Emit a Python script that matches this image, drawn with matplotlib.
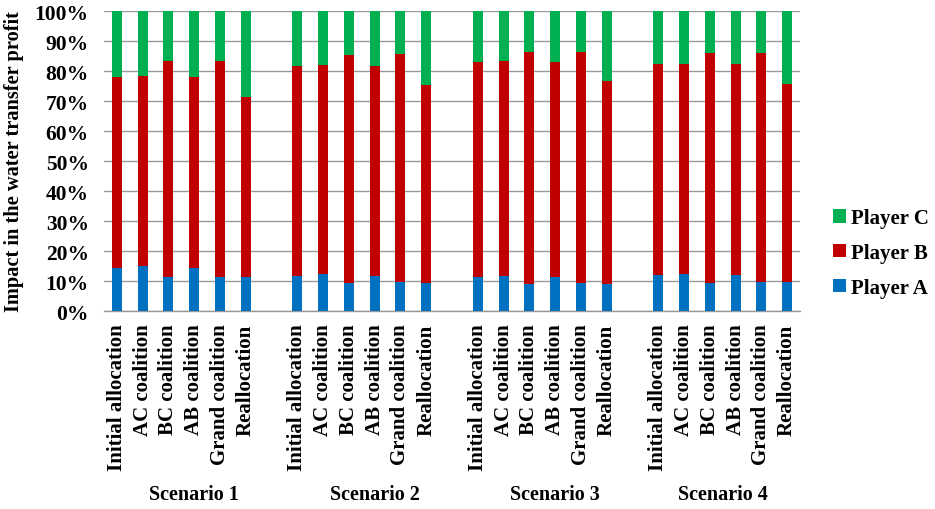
import matplotlib
matplotlib.use("Agg")
import matplotlib.pyplot as plt
import matplotlib.transforms as mtransforms
import numpy as np

plt.rcParams['font.family'] = ['Liberation Serif', 'DejaVu Serif']
plt.rcParams['font.weight'] = 'bold'

scenarios = ["Scenario 1", "Scenario 2", "Scenario 3", "Scenario 4"]
cases = ["Initial allocation", "AC coalition", "BC coalition",
         "AB coalition", "Grand coalition", "Reallocation"]

# share of player A, and cumulative top of player B (percent)
player_a = [14.5, 15.0, 11.2, 14.5, 11.5, 11.2,
            11.7, 12.2, 9.4, 11.7, 9.6, 9.4,
            11.4, 11.7, 9.1, 11.4, 9.4, 9.1,
            11.9, 12.3, 9.5, 11.9, 9.6, 9.6]
a_plus_b = [78.0, 78.4, 83.3, 78.0, 83.4, 71.5,
            81.6, 82.1, 85.5, 81.6, 85.7, 75.2,
            83.0, 83.4, 86.5, 83.0, 86.5, 76.7,
            82.2, 82.5, 85.9, 82.2, 86.0, 75.7]

player_a = np.array(player_a)
player_b = np.array(a_plus_b) - player_a
player_c = 100 - np.array(a_plus_b)

blue, red, green = "#0070C0", "#C00000", "#00B050"

# one empty slot between scenario groups
x = np.array([g * 7 + i + 0.5 for g in range(4) for i in range(6)])

fig = plt.figure(figsize=(9.35, 5.1), dpi=100)
ax = fig.add_axes([104 / 935, 1 - 312 / 510, 696 / 935, 300 / 510])

w = 0.39
ax.bar(x, player_a, w, color=blue, label="Player A", zorder=3)
ax.bar(x, player_b, w, bottom=player_a, color=red, label="Player B", zorder=3)
ax.bar(x, player_c, w, bottom=player_a + player_b, color=green, label="Player C", zorder=3)

ax.set_xlim(0, 27)
ax.set_ylim(0, 100)
ax.set_yticks(np.arange(0, 101, 10))
ax.set_yticklabels([f"{v}%" for v in range(0, 101, 10)])
ax.yaxis.grid(True, color="#999999", linewidth=1.0, zorder=0)
for s in ["left", "right", "top"]:
    ax.spines[s].set_visible(False)
ax.spines["bottom"].set_color("#999999")
ax.spines["bottom"].set_linewidth(1.0)
ax.tick_params(axis="y", length=0, pad=11, labelsize=15.5)
ax.tick_params(axis="x", length=0, pad=9, labelsize=15)

ax.set_xticks(x)
ax.set_xticklabels(cases * 4, rotation=90, fontweight="bold")
for t in ax.get_yticklabels():
    t.set_fontweight("bold")

ax.set_ylabel("Impact in the water transfer profit", fontsize=14.7,
              fontweight="bold", labelpad=8)

# scenario captions under each group (first three sit a little right of centre)
trans = mtransforms.blended_transform_factory(ax.transData, fig.transFigure)
for name, xc in zip(scenarios, [3.47, 10.5, 17.5, 24.0]):
    ax.text(xc, 1 - 495 / 510, name, transform=trans, ha="center",
            va="center", fontsize=14.5, fontweight="bold")

handles, labels = ax.get_legend_handles_labels()
leg = fig.legend(handles[::-1], labels[::-1], loc="center left",
                 bbox_to_anchor=(833 / 935, 1 - 254 / 510), frameon=False,
                 fontsize=15, handlelength=0.6, handleheight=0.6,
                 handletextpad=0.25, labelspacing=0.7, borderaxespad=0,
                 borderpad=0)
for t in leg.get_texts():
    t.set_fontweight("bold")

fig.savefig("out.png", dpi=100)
